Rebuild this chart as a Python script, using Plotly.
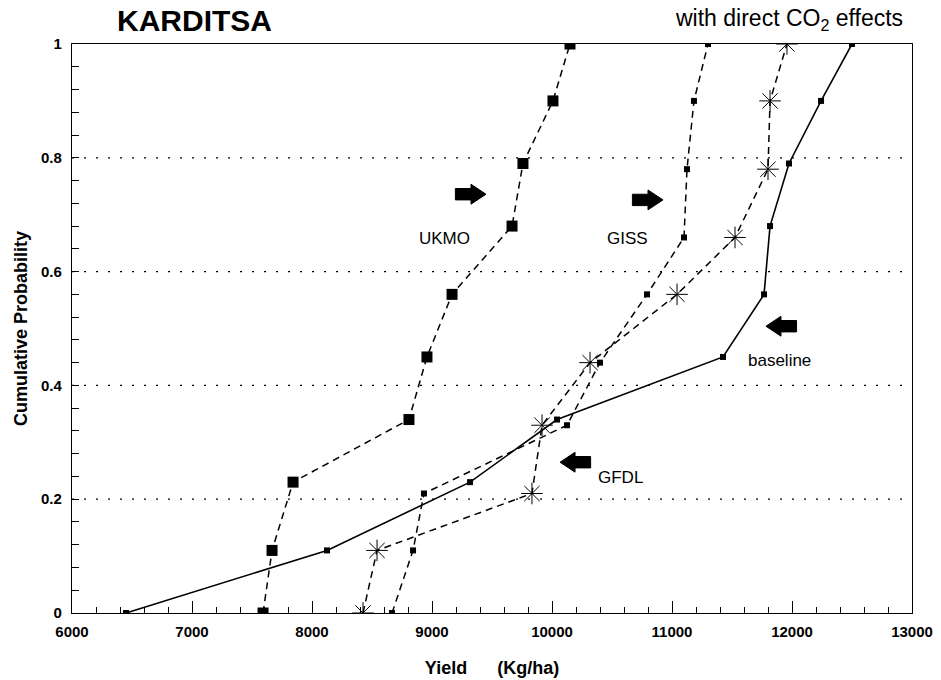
import plotly.graph_objects as go

# Cumulative probability levels (rank / n) and yields in kg/ha for each scenario
baseline_yield = [6450, 8125, 9317, 10042, 11425, 11767, 11817, 11975, 12242, 12500]
baseline_prob = [0.0, 0.11, 0.23, 0.34, 0.45, 0.56, 0.68, 0.79, 0.90, 1.0]

ukmo_yield = [7592, 7667, 7842, 8808, 8958, 9167, 9667, 9758, 10008, 10150]
ukmo_prob = [0.0, 0.11, 0.23, 0.34, 0.45, 0.56, 0.68, 0.79, 0.90, 1.0]

giss_yield = [8667, 8842, 8933, 10125, 10400, 10792, 11100, 11125, 11183, 11300]
giss_prob = [0.0, 0.11, 0.21, 0.33, 0.44, 0.56, 0.66, 0.78, 0.90, 1.0]

gfdl_yield = [8425, 8542, 9833, 9917, 10317, 11042, 11525, 11800, 11817, 11958]
gfdl_prob = [0.0, 0.11, 0.21, 0.33, 0.44, 0.56, 0.66, 0.78, 0.90, 1.0]

x_ticks = [6000, 7000, 8000, 9000, 10000, 11000, 12000, 13000]
x_tick_text = ["6000", "7000", "8000", "9000", "10000", "11000", "12000", "13000"]
y_ticks = [0, 0.2, 0.4, 0.6, 0.8, 1]
y_tick_text = ["0", "0.2", "0.4", "0.6", "0.8", "1"]

# Curve labels with the block arrows that point at their curves
labels = ["UKMO", "GISS", "baseline", "GFDL"]
label_x = [9108, 10625, 11892, 10567]
label_y = [0.659, 0.659, 0.443, 0.239]
arrow_tip_x = [9450, 10925, 11783, 10067]
arrow_tip_y = [0.736, 0.726, 0.504, 0.265]
arrow_dir = [1, 1, -1, -1]

FONT = "Liberation Sans, Arial, Helvetica, sans-serif"
DASH = "7px,5px"

fig = go.Figure()

fig.add_trace(go.Scatter(
    x=baseline_yield, y=baseline_prob, mode="lines+markers", name="baseline",
    line=dict(color="black", width=1.6),
    marker=dict(symbol="square", size=6, color="black"),
))
fig.add_trace(go.Scatter(
    x=ukmo_yield, y=ukmo_prob, mode="lines+markers", name="UKMO",
    line=dict(color="black", width=1.5, dash=DASH),
    marker=dict(symbol="square", size=11, color="black"),
))
fig.add_trace(go.Scatter(
    x=giss_yield, y=giss_prob, mode="lines+markers", name="GISS",
    line=dict(color="black", width=1.5, dash=DASH),
    marker=dict(symbol="square", size=6, color="black"),
))
fig.add_trace(go.Scatter(
    x=gfdl_yield, y=gfdl_prob, mode="lines+markers", name="GFDL",
    line=dict(color="black", width=1.5, dash=DASH),
    marker=dict(symbol="asterisk-open", size=18, line=dict(color="black", width=1)),
))


def block_arrow(tx, ty, d):
    """Filled block arrow path with its tip at (tx, ty), pointing right (d=1) or left (d=-1)."""
    L, Lh = 255.0, 125.0      # total and head length in kg/ha
    h, b = 0.0175, 0.010      # head and body half-heights in probability units
    pts = [
        (tx, ty),
        (tx - d * Lh, ty + h),
        (tx - d * Lh, ty + b),
        (tx - d * L, ty + b),
        (tx - d * L, ty - b),
        (tx - d * Lh, ty - b),
        (tx - d * Lh, ty - h),
    ]
    return "M " + " L ".join(f"{px},{py}" for px, py in pts) + " Z"


for tx, ty, d in zip(arrow_tip_x, arrow_tip_y, arrow_dir):
    fig.add_shape(type="path", path=block_arrow(tx, ty, d), xref="x", yref="y",
                  fillcolor="black", line=dict(color="black", width=1))

for text, lx, ly in zip(labels, label_x, label_y):
    fig.add_annotation(x=lx, y=ly, xref="x", yref="y", text=text, showarrow=False,
                       font=dict(family=FONT, size=17, color="black"))

fig.add_annotation(x=0.051, y=1.042, xref="paper", yref="paper", text="<b>KARDITSA</b>",
                   xanchor="left", yanchor="middle", showarrow=False,
                   font=dict(family=FONT, size=30, color="black"))
fig.add_annotation(x=0.992, y=1.043, xref="paper", yref="paper",
                   text="with direct CO<sub>2</sub> effects",
                   xanchor="right", yanchor="middle", showarrow=False,
                   font=dict(family=FONT, size=23, color="black"))

fig.update_layout(
    width=941, height=680,
    margin=dict(l=72, r=29, t=44, b=67),
    paper_bgcolor="white", plot_bgcolor="white",
    showlegend=False,
    font=dict(family=FONT, color="black"),
)

fig.update_xaxes(
    range=[6000, 13000], tickvals=x_ticks, ticktext=[f"<b>{t}</b>" for t in x_tick_text],
    ticks="inside", ticklen=12, tickwidth=1, ticklabelstandoff=5, automargin=False,
    tickcolor="black", showline=True, linecolor="black", linewidth=1.2, mirror=True,
    showgrid=False, zeroline=False,
    tickfont=dict(family=FONT, size=15, color="black"),
    minor=dict(dtick=200, ticks="inside", ticklen=6, tickcolor="black", showgrid=False),
    title=dict(text="<b>Yield      (Kg/ha)</b>", font=dict(family=FONT, size=18), standoff=22),
)
fig.update_yaxes(
    range=[0, 1], tickvals=y_ticks, ticktext=[f"<b>{t}</b>" for t in y_tick_text],
    ticks="inside", ticklen=7, tickwidth=1, tickcolor="black", ticklabelstandoff=6,
    automargin=False,
    showline=True, linecolor="black", linewidth=1.2, mirror=True,
    showgrid=False, zeroline=False,
    tickfont=dict(family=FONT, size=15, color="black"),
    minor=dict(dtick=0.04, ticks="inside", ticklen=7, tickcolor="black", showgrid=False),
    title=dict(text="<b>Cumulative Probability</b>", font=dict(family=FONT, size=18), standoff=8),
)

# Dotted horizontal reference lines
for yv in y_ticks[1:-1]:
    fig.add_hline(y=yv, line=dict(color="black", width=1.3, dash="2px,10px"), layer="below")

fig.write_html("out.html")
